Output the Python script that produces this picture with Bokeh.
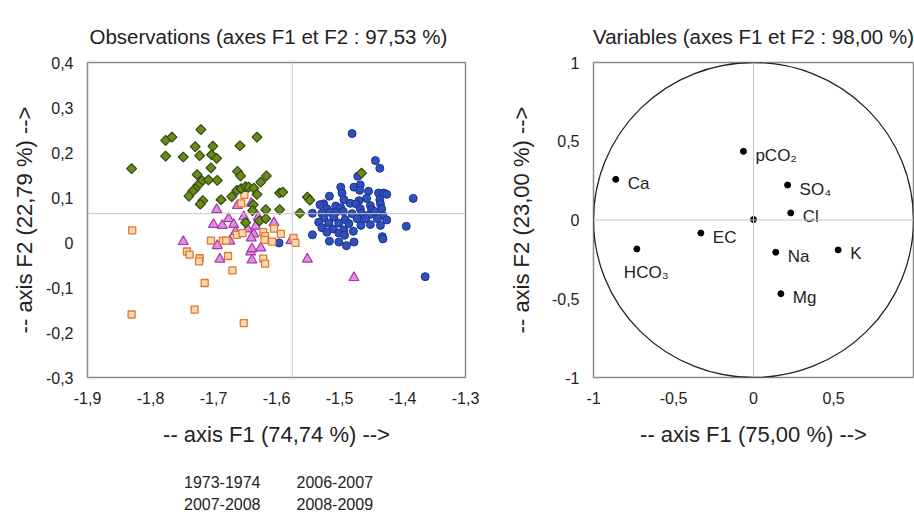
import math
from bokeh.plotting import figure
from bokeh.models import Range1d, FixedTicker, Span, Legend, LegendItem, CustomJSTickFormatter
from bokeh.layouts import row, column
from bokeh.embed import file_html
from bokeh.resources import INLINE
from bokeh.core.properties import value

FONT = "Liberation Sans"

# ---------------- data: observations ----------------
SERIES = ["1973-1974", "2006-2007", "2007-2008", "2008-2009"]

blue_x = [-1.443, -1.436, -1.471, -1.477, -1.467, -1.498, -1.496, -1.454, -1.468, -1.516,
          -1.493, -1.457, -1.469, -1.438, -1.430, -1.425, -1.383, -1.436, -1.525, -1.531,
          -1.506, -1.483, -1.474, -1.451, -1.435, -1.520, -1.498, -1.467, -1.449, -1.433,
          -1.543, -1.528, -1.515, -1.506, -1.494, -1.480, -1.465, -1.452, -1.444, -1.431,
          -1.525, -1.509, -1.491, -1.472, -1.459, -1.440, -1.425, -1.533, -1.517, -1.501,
          -1.485, -1.466, -1.451, -1.435, -1.394, -1.528, -1.510, -1.493, -1.478, -1.520,
          -1.501, -1.543, -1.492, -1.432, -1.516, -1.501, -1.477, -1.489, -1.431, -1.480,
          -1.364, -1.596]
blue_y = [0.182, 0.165, 0.147, 0.123, 0.128, 0.123, 0.110, 0.114, 0.116, 0.103,
          0.095, 0.098, 0.093, 0.110, 0.110, 0.107, 0.098, 0.095, 0.086, 0.084,
          0.081, 0.087, 0.086, 0.082, 0.086, 0.075, 0.077, 0.075, 0.073, 0.075,
          0.065, 0.065, 0.067, 0.067, 0.069, 0.064, 0.065, 0.062, 0.069, 0.060,
          0.055, 0.056, 0.051, 0.053, 0.053, 0.053, 0.050, 0.045, 0.043, 0.043,
          0.042, 0.038, 0.040, 0.038, 0.036, 0.033, 0.030, 0.028, 0.025, 0.023,
          0.021, 0.017, 0.016, 0.013, 0.003, 0.001, 0.001, -0.007, 0.008, 0.242,
          -0.076, -0.001]

purple_x = [-1.748, -1.695, -1.700, -1.686, -1.676, -1.668, -1.662, -1.652, -1.694, -1.674,
            -1.690, -1.639, -1.641, -1.639, -1.625, -1.636, -1.640, -1.646, -1.629, -1.604,
            -1.577, -1.551, -1.477, -1.640, -1.633, -1.665]
purple_y = [0.002, 0.073, 0.040, 0.038, 0.053, 0.040, 0.082, 0.057, -0.007, 0.003,
            -0.037, -0.039, -0.021, -0.014, -0.012, 0.019, 0.010, 0.030, 0.056, 0.044,
            0.004, -0.037, -0.078, 0.087, 0.036, 0.024]

orange_x = [-1.829, -1.830, -1.730, -1.652, -1.714, -1.670, -1.742, -1.738, -1.722, -1.723,
            -1.677, -1.704, -1.685, -1.680, -1.663, -1.654, -1.651, -1.656, -1.621, -1.618,
            -1.621, -1.618, -1.619, -1.607, -1.604, -1.593, -1.573, -1.570]
orange_y = [0.027, -0.160, -0.149, -0.179, -0.090, -0.062, -0.020, -0.027, -0.035, -0.042,
            -0.030, 0.004, 0.004, 0.004, 0.017, 0.021, 0.106, 0.087, -0.036, -0.047,
            0.023, 0.014, 0.006, 0.002, 0.031, 0.019, 0.010, -0.001]

green_x = [-1.830, -1.776, -1.766, -1.776, -1.748, -1.720, -1.729, -1.722, -1.701, -1.703,
           -1.695, -1.658, -1.631, -1.704, -1.726, -1.662, -1.657, -1.616, -1.718, -1.708,
           -1.694, -1.625, -1.725, -1.729, -1.733, -1.739, -1.663, -1.656, -1.649, -1.644,
           -1.636, -1.631, -1.595, -1.590, -1.717, -1.721, -1.688, -1.671, -1.637, -1.617,
           -1.595, -1.563, -1.551, -1.547, -1.465, -1.649, -1.627, -1.617, -1.638]
green_y = [0.164, 0.227, 0.234, 0.192, 0.190, 0.251, 0.213, 0.193, 0.214, 0.195,
           0.187, 0.215, 0.234, 0.166, 0.151, 0.158, 0.148, 0.148, 0.137, 0.139,
           0.138, 0.134, 0.127, 0.119, 0.114, 0.103, 0.116, 0.120, 0.124, 0.123,
           0.121, 0.107, 0.110, 0.112, 0.093, 0.085, 0.095, 0.102, 0.084, 0.073,
           0.073, 0.065, 0.101, 0.094, 0.154, 0.044, 0.048, 0.053, 0.071]

obs_center_x = -1.575   # vertical reference line (F1)
obs_center_y = 0.064    # horizontal reference line (F2)

obs_xticks = [-1.9, -1.8, -1.7, -1.6, -1.5, -1.4, -1.3]
obs_xlabels = ["-1,9", "-1,8", "-1,7", "-1,6", "-1,5", "-1,4", "-1,3"]
obs_yticks = [-0.3, -0.2, -0.1, 0.0, 0.1, 0.2, 0.3, 0.4]
obs_ylabels = ["-0,3", "-0,2", "-0,1", "0", "0,1", "0,2", "0,3", "0,4"]

# ---------------- data: variables ----------------
var_names = ["pCO₂", "Ca", "SO₄", "Cl", "", "EC", "HCO₃", "Na", "K", "Mg"]
var_x = [-0.063, -0.861, 0.213, 0.233, 0.000, -0.329, -0.729, 0.139, 0.529, 0.171]
var_y = [0.436, 0.258, 0.222, 0.045, 0.003, -0.083, -0.184, -0.205, -0.190, -0.468]
circle_radius = 1.0

var_xticks = [-1.0, -0.5, 0.0, 0.5]
var_xlabels = ["-1", "-0,5", "0", "0,5"]
var_yticks = [-1.0, -0.5, 0.0, 0.5, 1.0]
var_ylabels = ["-1", "-0,5", "0", "0,5", "1"]

FRAME_COLOR = "#8a8a8a"
REF_COLOR = "#c8c8c8"
TEXT_COLOR = "#222222"

STYLES = {
    "1973-1974": dict(marker="circle", size=8, fill_color="#2f4fbf", line_color="#1c3488", line_width=1),
    "2006-2007": dict(marker="triangle", size=10, fill_color="#e08ee0", line_color="#a33aa8", line_width=1.2),
    "2007-2008": dict(marker="square", size=7, fill_color="#fbd9b0", line_color="#e2782e", line_width=1.3),
    "2008-2009": dict(marker="square", angle=math.pi / 4, size=7, fill_color="#6c8a1c",
                      line_color="#2c4a0c", line_width=1.2),
}

LABEL_JS = """
const i = tick_vals.findIndex(t => Math.abs(t - tick) < 1e-9);
return i < 0 ? "" : tick_labels[i];
"""


def style(p, xticks, xlabels, yticks, ylabels, xlab, ylab, ylab_standoff):
    p.grid.visible = False
    p.outline_line_color = FRAME_COLOR
    p.outline_line_width = 1.5
    p.background_fill_color = "white"
    p.border_fill_color = "white"
    p.xaxis.ticker = FixedTicker(ticks=xticks)
    p.yaxis.ticker = FixedTicker(ticks=yticks)
    p.xaxis.formatter = CustomJSTickFormatter(args=dict(tick_vals=xticks, tick_labels=xlabels),
                                              code=LABEL_JS)
    p.yaxis.formatter = CustomJSTickFormatter(args=dict(tick_vals=yticks, tick_labels=ylabels),
                                              code=LABEL_JS)
    for ax in (p.xaxis, p.yaxis):
        ax.axis_line_color = None
        ax.major_tick_line_color = None
        ax.minor_tick_line_color = None
        ax.major_label_text_font = FONT
        ax.major_label_text_font_size = "16px"
        ax.major_label_text_color = TEXT_COLOR
        ax.axis_label_text_font = FONT
        ax.axis_label_text_font_size = "22px"
        ax.axis_label_text_font_style = "normal"
        ax.axis_label_text_color = TEXT_COLOR
    p.xaxis.major_label_standoff = 8
    p.yaxis.major_label_standoff = 8
    p.xaxis.axis_label = xlab
    p.yaxis.axis_label = ylab
    p.xaxis.axis_label_standoff = 15
    p.yaxis.axis_label_standoff = ylab_standoff
    p.title.text_font = FONT
    p.title.text_font_size = "20.5px"
    p.title.text_font_style = "normal"
    p.title.text_color = TEXT_COLOR
    p.title.standoff = 30


# ---------------- left figure ----------------
p1 = figure(width=485, height=460, x_range=Range1d(-1.9, -1.3), y_range=Range1d(-0.3, 0.4),
            output_backend="svg", toolbar_location=None,
            min_border_left=87, min_border_right=20, min_border_top=62, min_border_bottom=83,
            title="Observations (axes F1 et F2 : 97,53 %)")
style(p1, obs_xticks, obs_xlabels, obs_yticks, obs_ylabels,
      "-- axis F1 (74,74 %) -->", "-- axis F2 (22,79 %) -->", 6)
p1.title.align = "left"
p1.title.offset = 2

p1.add_layout(Span(location=obs_center_x, dimension="height", line_color=REF_COLOR, line_width=1))
p1.add_layout(Span(location=obs_center_y, dimension="width", line_color=REF_COLOR, line_width=1))

p1.scatter(blue_x, blue_y, **STYLES[SERIES[0]])
p1.scatter(purple_x, purple_y, **STYLES[SERIES[1]])
p1.scatter(orange_x, orange_y, **STYLES[SERIES[2]])
p1.scatter(green_x, green_y, **STYLES[SERIES[3]])

# ---------------- legend strip under the left chart ----------------
p_leg = figure(width=485, height=57, x_range=Range1d(0, 1), y_range=Range1d(0, 1),
               output_backend="svg", toolbar_location=None,
               x_axis_location=None, y_axis_location=None,
               min_border_left=87, min_border_right=20, min_border_top=0, min_border_bottom=0)
p_leg.grid.visible = False
p_leg.outline_line_color = None
p_leg.background_fill_color = "white"
p_leg.border_fill_color = "white"
leg_r = [p_leg.scatter(x=[], y=[], **STYLES[s]) for s in SERIES]

legend_kw = dict(orientation="horizontal",
                 border_line_color=None, background_fill_alpha=0,
                 label_text_font=FONT, label_text_font_size="16px", label_text_color=TEXT_COLOR,
                 glyph_width=10, glyph_height=10, label_standoff=6, spacing=20,
                 padding=0, margin=0, label_height=20)
legend_a = Legend(items=[LegendItem(label=SERIES[0], renderers=[leg_r[0]]),
                         LegendItem(label=SERIES[1], renderers=[leg_r[1]])],
                  location=(81, 24), **legend_kw)
legend_b = Legend(items=[LegendItem(label=SERIES[2], renderers=[leg_r[2]]),
                         LegendItem(label=SERIES[3], renderers=[leg_r[3]])],
                  location=(81, 2), **legend_kw)
p_leg.add_layout(legend_a)
p_leg.add_layout(legend_b)

# ---------------- right figure ----------------
p2 = figure(width=429, height=517, x_range=Range1d(-1, 1), y_range=Range1d(-1, 1),
            output_backend="svg", toolbar_location=None,
            min_border_left=108, min_border_right=1, min_border_top=62, min_border_bottom=140,
            title="Variables (axes F1 et F2 : 98,00 %)")
style(p2, var_xticks, var_xlabels, var_yticks, var_ylabels,
      "-- axis F1 (75,00 %) -->", "-- axis F2 (23,00 %) -->", 15)
p2.title.align = "center"

p2.add_layout(Span(location=0, dimension="height", line_color=REF_COLOR, line_width=1))
p2.add_layout(Span(location=0, dimension="width", line_color=REF_COLOR, line_width=1))

p2.ellipse(x=[0], y=[0], width=[2 * circle_radius], height=[2 * circle_radius],
           fill_color=None, line_color=TEXT_COLOR, line_width=1.3)
p2.scatter(var_x, var_y, marker="circle", size=6, fill_color="black", line_color="black")

idx_below = [i for i, n in enumerate(var_names) if n.startswith("HCO")]
idx_right = [i for i, n in enumerate(var_names) if n and i not in idx_below]
p2.text(x=[var_x[i] for i in idx_right], y=[var_y[i] for i in idx_right],
        text=[var_names[i] for i in idx_right], x_offset=12, y_offset=4,
        text_font=value(FONT), text_font_size="17px", text_color=TEXT_COLOR,
        text_baseline="middle", text_align="left")
p2.text(x=[var_x[i] for i in idx_below], y=[var_y[i] for i in idx_below],
        text=[var_names[i] for i in idx_below], x_offset=-13, y_offset=24,
        text_font=value(FONT), text_font_size="17px", text_color=TEXT_COLOR,
        text_baseline="middle", text_align="left")

layout = row(column(p1, p_leg), p2)
open("out.html", "w").write(file_html(layout, INLINE))
